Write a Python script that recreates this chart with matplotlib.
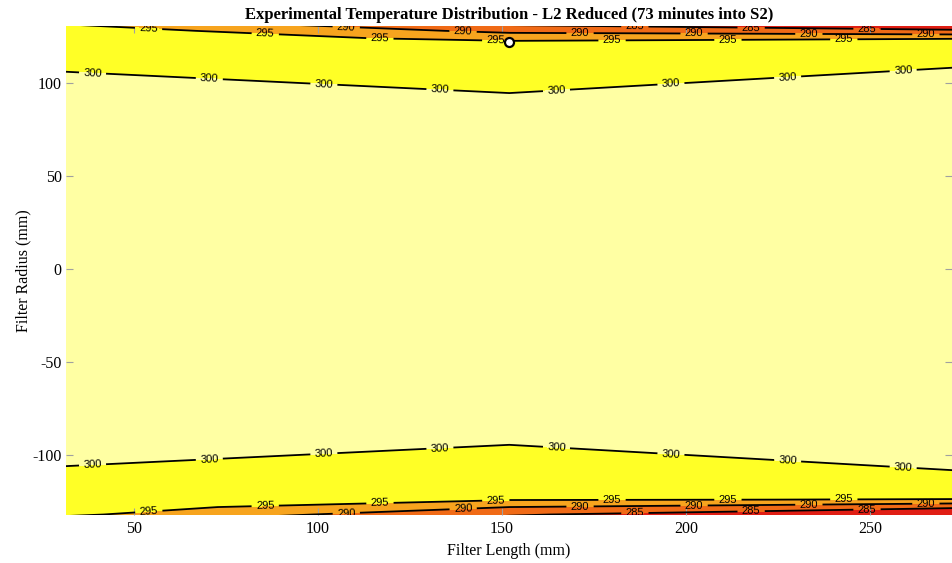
import numpy as np
import matplotlib
matplotlib.use('Agg')
import matplotlib.pyplot as plt

plt.rcParams['axes.unicode_minus'] = False

# filter length positions (mm) and radius nodes (mm)
length_mm = [31.5, 152.0, 272.5]
radius_mm = [-140, -132, -128, -124, -120, -110, -90, 0, 90, 110, 120, 124, 128, 132, 140]

# temperature (K) at each radius node, one list per length position
temp_a = [287.3, 295.9, 297.6, 298.3, 298.8, 299.5, 302.0, 303.0,
          302.0, 299.5, 298.8, 298.3, 297.6, 294.6, 285.2]
temp_b = [281.5, 285.3, 290.0, 295.3, 297.8, 298.3, 300.5, 303.0,
          300.5, 298.3, 297.8, 293.5, 288.7, 283.9, 279.0]
temp_c = [278.0, 282.0, 285.5, 294.8, 297.5, 299.8, 302.0, 303.0,
          302.0, 299.8, 297.5, 294.8, 285.5, 282.0, 278.0]

line_levels = [285, 290, 295, 300]
fill_levels = [270, 285, 290, 295, 300, 310]
fill_colors = ['#e01e14', '#f06a16', '#f7a41e', '#ffff26', '#ffffa3']

# label x positions along each contour (mm)
label_x = {300: [38.6, 70.4, 101.6, 133.2, 164.7, 195.9, 227.7, 259.2],
           295: [53.8, 85.6, 116.8, 148.3, 179.9, 211.4, 242.9],
           290: [107.6, 139.4, 171.2, 202.2, 233.4, 265.2],
           285: [186.1, 217.7, 249.2]}
label_r = {300: 100, 295: 123.5, 290: 126.5, 285: 129.5}

sensor_x = [152]
sensor_r = [122]

T = np.array([temp_a, temp_b, temp_c]).T
X, Y = np.meshgrid(length_mm, radius_mm)

fig = plt.figure(figsize=(9.52, 5.63), dpi=100)
ax = fig.add_axes([66/952, 1 - 514.5/563, 1 - 66/952, (514.5 - 26)/563])

ax.contourf(X, Y, T, levels=fill_levels, colors=fill_colors)
for lev in line_levels:
    cs = ax.contour(X, Y, T, levels=[lev], colors='k', linewidths=1.3)
    pos = [(x, label_r[lev]) for x in label_x[lev]] + \
          [(x, -label_r[lev]) for x in label_x[lev]]
    texts = cs.clabel(manual=pos, inline=True, inline_spacing=3,
                      fontsize=8, fmt='%d')
    for t in texts:
        t.set_fontfamily('Liberation Sans')

ax.plot(sensor_x, sensor_r, 'o', ms=6.5, mfc='white', mec='black', mew=1.6)

ax.set_xlim(31.5, 272.3)
ax.set_ylim(-132, 130.6)
ax.set_xticks([50, 100, 150, 200, 250])
ax.set_yticks([-100, -50, 0, 50, 100])
ax.tick_params(direction='in', length=5, color='#a0a0a0', top=True, right=True,
               labelsize=11.5)
ax.tick_params(axis='x', pad=5)
ax.tick_params(axis='y', pad=3)
for lab in ax.get_xticklabels() + ax.get_yticklabels():
    lab.set_fontfamily('Liberation Serif')
for s in ax.spines.values():
    s.set_visible(False)

ax.set_xlabel('Filter Length (mm)', fontfamily='Liberation Serif', fontsize=11.5, labelpad=4)
ax.set_ylabel('Filter Radius (mm)', fontfamily='Liberation Serif', fontsize=11.5, labelpad=1)
ax.set_title('Experimental Temperature Distribution - L2 Reduced (73 minutes into S2)',
             fontfamily='Liberation Serif', fontweight='bold', fontsize=12, pad=5)

fig.savefig('out.png', dpi=100)
